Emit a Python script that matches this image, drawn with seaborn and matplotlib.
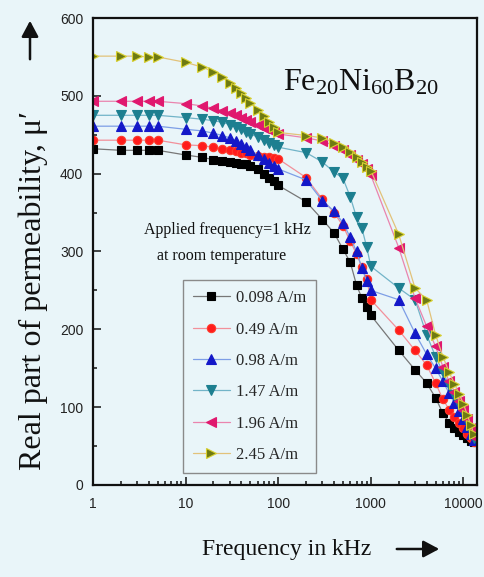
import matplotlib
matplotlib.use("Agg")
import matplotlib.pyplot as plt
from matplotlib.ticker import FixedLocator, FixedFormatter, MultipleLocator, LogLocator, NullFormatter
import seaborn as sns

# Measurement frequencies (kHz), shared by all field amplitudes
freq_khz = [1, 2, 3, 4, 5,
            10, 15, 20, 25, 30, 35, 40, 45, 50, 60, 70, 80, 90, 100,
            200, 300, 400, 500, 600, 700, 800, 900, 1000,
            2000, 3000, 4000, 5000, 6000, 7000, 8000, 9000, 10000, 11000, 12000, 13000]

# Real part of permeability for each applied field amplitude
mu_0098 = [432, 430, 430, 430, 430,
           424, 421, 418, 416, 415, 414, 413, 412, 410, 406, 400, 395, 390, 385,
           364, 341, 324, 303, 286, 257, 240, 229, 218,
           173, 148, 131, 112, 92, 80, 73, 68, 64, 60, 57, 55]
mu_049 = [443, 443, 443, 443, 443,
          437, 436, 434, 432, 431, 429, 427, 426, 424, 423, 422, 421, 420, 419,
          395, 367, 350, 333, 313, 297, 280, 265, 238,
          199, 173, 154, 131, 110, 97, 88, 80, 73, 66, 60, 55]
mu_098 = [461, 461, 461, 461, 461,
          457, 455, 452, 449, 446, 442, 438, 434, 430, 424, 419, 414, 410, 406,
          392, 365, 352, 337, 318, 300, 279, 262, 250,
          238, 195, 168, 150, 133, 118, 105, 95, 85, 75, 66, 58]
mu_147 = [475, 475, 475, 475, 475,
          472, 470, 468, 466, 463, 460, 457, 454, 451, 447, 443, 440, 437, 434,
          427, 415, 402, 394, 370, 344, 330, 306, 281,
          253, 238, 193, 165, 145, 128, 115, 104, 94, 82, 70, 60]
mu_196 = [493, 493, 493, 493, 493,
          490, 487, 484, 481, 478, 475, 472, 469, 466, 462, 459, 456, 454, 451,
          446, 442, 436, 430, 424, 418, 412, 406, 398,
          305, 240, 204, 178, 152, 133, 120, 108, 97, 85, 73, 62]
mu_245 = [551, 551, 551, 550, 550,
          543, 537, 531, 524, 517, 510, 503, 497, 491, 482, 474, 467, 460, 453,
          449, 446, 440, 434, 428, 421, 415, 409, 404,
          322, 253, 238, 193, 165, 145, 130, 117, 104, 90, 77, 65]

field_labels = ["0.098 A/m", "0.49 A/m", "0.98 A/m", "1.47 A/m", "1.96 A/m", "2.45 A/m"]
x_tick_values = [1, 10, 100, 1000, 10000]
x_tick_labels = ["1", "10", "100", "1000", "10000"]
y_tick_values = [0, 100, 200, 300, 400, 500, 600]

series = [mu_0098, mu_049, mu_098, mu_147, mu_196, mu_245]
markers = ["s", "o", "^", "v", "<", ">"]
marker_sizes = [5.2, 6.0, 6.5, 6.5, 6.5, 6.5]
face_colors = ["#000000", "#ff1c1c", "#1418c8", "#1d7f90", "#e0186e", "#6e7a12"]
edge_colors = ["#000000", "#ff3a2a", "#1418c8", "#1d7f90", "#e0186e", "#d8d030"]
line_colors = ["#777777", "#f2909a", "#7d9ee6", "#72b4c8", "#ea84ae", "#e2c27a"]

sns.set_style("ticks")
bg = "#e9f5f9"
plt.rcParams["font.family"] = ["Liberation Sans", "DejaVu Sans"]
plt.rcParams["mathtext.fontset"] = "custom"
plt.rcParams["mathtext.rm"] = "Liberation Serif"
plt.rcParams["mathtext.it"] = "Liberation Serif:italic"

fig = plt.figure(figsize=(4.84, 5.77), dpi=100)
fig.patch.set_facecolor(bg)
ax = fig.add_axes([93 / 484, 1 - 485 / 577, 384 / 484, 467 / 577])
ax.set_facecolor(bg)

for vals, lab, m, ms, fc, ec, lc in zip(series, field_labels, markers, marker_sizes,
                                         face_colors, edge_colors, line_colors):
    sns.lineplot(x=freq_khz, y=vals, ax=ax, color=lc, linewidth=0.9,
                 marker=m, markersize=ms, markerfacecolor=fc, markeredgecolor=ec,
                 markeredgewidth=0.8, label=lab, legend=False)

ax.set_xscale("log")
ax.set_xlim(1, 14000)
ax.set_ylim(0, 600)

ax.xaxis.set_major_locator(FixedLocator(x_tick_values))
ax.xaxis.set_major_formatter(FixedFormatter(x_tick_labels))
ax.xaxis.set_minor_locator(LogLocator(base=10, subs=range(2, 10), numticks=20))
ax.xaxis.set_minor_formatter(NullFormatter())
ax.yaxis.set_major_locator(FixedLocator(y_tick_values))
ax.yaxis.set_minor_locator(MultipleLocator(50))

ax.tick_params(which="both", direction="in", top=False, right=False,
               color="#111111", width=1.1)
ax.tick_params(which="major", length=6, labelsize=10, labelcolor="#222222")
ax.tick_params(which="minor", length=3)
ax.tick_params(axis="x", pad=9)
ax.tick_params(axis="y", pad=7)
for s in ax.spines.values():
    s.set_linewidth(1.6)
    s.set_color("#111111")
ax.set_xlabel("")
ax.set_ylabel("")

serif = ["Liberation Serif", "DejaVu Serif"]

# Composition label
ax.text(0.495, 0.845, r"$\mathrm{Fe_{20}Ni_{60}B_{20}}$", transform=ax.transAxes,
        fontsize=23, color="#111111", ha="left", va="baseline")

# Measurement conditions
ax.text(0.35, 0.545, "Applied frequency=1 kHz", transform=ax.transAxes,
        family=serif, fontsize=11.5, ha="center", va="center", color="#111111")
ax.text(0.335, 0.49, "at room temperature", transform=ax.transAxes,
        family=serif, fontsize=11.5, ha="center", va="center", color="#111111")

leg = ax.legend(loc="lower left", bbox_to_anchor=(0.234, 0.026), frameon=True,
                prop={"family": serif, "size": 12}, numpoints=1,
                handlelength=2.2, handletextpad=0.4, labelspacing=0.92,
                borderpad=0.6, borderaxespad=0.0, fancybox=False)
leg.get_frame().set_facecolor(bg)
leg.get_frame().set_edgecolor("#8a8a8a")
leg.get_frame().set_linewidth(1.0)
leg.get_frame().set_alpha(1.0)

# Axis titles with direction arrows
fig.text(287 / 484, 1 - 549 / 577, "Frequency in kHz", family=serif, fontsize=17,
         ha="center", va="center", color="#111111")
fig.text(33 / 484, 1 - 290 / 577, "Real part of permeability, \u03bc\u2032", family=serif,
         fontsize=23, rotation=90, ha="center", va="center", color="#111111")
fig.add_artist(matplotlib.patches.FancyArrowPatch(
    (394 / 484, 1 - 549 / 577), (442 / 484, 1 - 549 / 577), transform=fig.transFigure,
    arrowstyle="-|>,head_length=6,head_width=3.2", color="#111111", linewidth=1.8,
    mutation_scale=1.6))
fig.add_artist(matplotlib.patches.FancyArrowPatch(
    (30 / 484, 1 - 62 / 577), (30 / 484, 1 - 18 / 577), transform=fig.transFigure,
    arrowstyle="-|>,head_length=6,head_width=3.2", color="#111111", linewidth=1.8,
    mutation_scale=1.6))

fig.savefig("out.png", dpi=100, facecolor=bg)
